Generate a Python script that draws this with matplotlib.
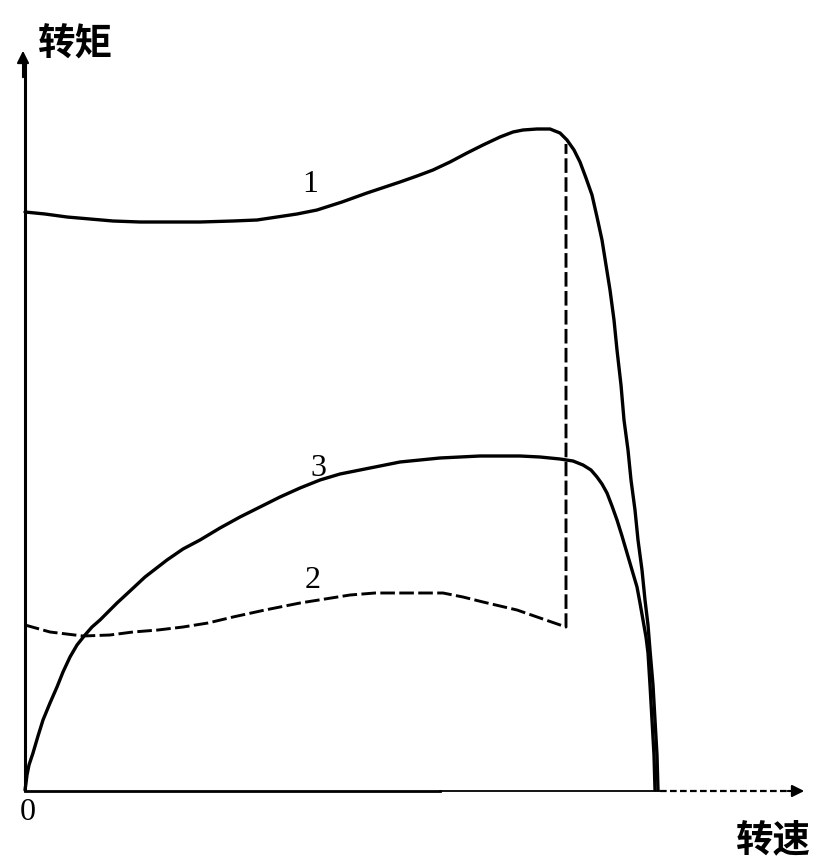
import matplotlib.pyplot as plt

plt.rcParams['font.family'] = ['Noto Sans CJK SC', 'DejaVu Sans']

# curve 1: speed / torque (arbitrary units)
speed1 = [0, 20, 42, 65, 88, 115, 145, 175, 208, 232, 252, 272, 292, 317, 342, 360,
          375, 392, 408, 425, 442, 458, 475, 488, 498, 512, 525, 535, 542, 549,
          555, 561, 567, 572, 577, 581, 585, 589, 592, 596, 599, 603, 606, 610, 613,
          617, 620, 623, 625, 628, 630, 632, 633]
torque1 = [578, 576, 573, 571, 569, 568, 568, 568, 569, 570, 573, 576, 580, 588, 597, 603,
           608, 614, 620, 628, 637, 645, 653, 658, 660, 661, 661, 657, 650, 640,
           628, 612, 595, 573, 550, 525, 500, 470, 440, 405, 370, 340, 310, 280, 250,
           220, 190, 165, 140, 105, 70, 35, 0]

# curve 2 (dashed), ends with the vertical drop line up to curve 1
speed2 = [0, 25, 58, 85, 108, 133, 158, 183, 208, 240, 275, 300, 325, 350, 375, 398,
          418, 438, 458, 475, 492, 515, 541, 541]
torque2 = [165, 158, 154, 155, 158, 160, 163, 167, 173, 180, 187, 191, 195, 197, 197, 197,
           197, 193, 188, 184, 180, 172, 163, 646]

# curve 3
speed3 = [0, 1, 2, 4, 8, 13, 18, 25, 32, 38, 45, 52, 60, 67, 75, 83, 92, 105, 120, 142,
          158, 175, 195, 215, 235, 255, 275, 295, 315, 335, 355, 375, 395, 415, 435,
          455, 475, 495, 515, 535, 548, 558, 566, 572, 577, 582, 587, 592, 597, 602,
          607, 612, 615, 618, 621, 623, 625, 627, 629, 630]
torque3 = [0, 7, 15, 25, 37, 54, 70, 87, 103, 118, 133, 145, 155, 163, 170, 178, 187, 199,
           213, 230, 241, 250, 262, 273, 283, 293, 302, 310, 316, 320, 324, 328, 330, 332,
           333, 334, 334, 334, 333, 331, 329, 325, 320, 313, 306, 297, 284, 270, 254, 237,
           220, 203, 187, 170, 153, 137, 105, 70, 35, 0]

curve_labels = ['1', '2', '3']
label_pos = [(285, 605), (288, 210), (293, 322)]

fig = plt.figure(figsize=(8.13, 8.6), dpi=100)
ax = fig.add_axes([0, 0, 1, 1])
ax.set_xlim(-25, 788)
ax.set_ylim(-70, 790)
ax.axis('off')

ax.plot(speed1, torque1, color='black', lw=2.4, solid_capstyle='round', solid_joinstyle='round')
ax.plot(speed2, torque2, color='black', lw=2.1, linestyle=(0, (5, 1.5)))
ax.plot(speed3, torque3, color='black', lw=2.4, solid_capstyle='round', solid_joinstyle='round')

for lab, (x, y) in zip(curve_labels, label_pos):
    ax.text(x, y, lab, fontsize=23, family='Liberation Serif', ha='center', va='center')

# axes with arrows
ax.plot([0, 0], [0, 725], color='black', lw=2.2)
ax.annotate('', xy=(-2, 742), xytext=(-2, 710),
            arrowprops=dict(arrowstyle='-|>', color='black', lw=1.5, mutation_scale=18))
ax.plot([0, 415], [-1, -1], color='black', lw=2.0)
ax.plot([415, 635], [-1, -1], color='black', lw=1.3)
ax.plot([635, 765], [-1, -1], color='black', lw=1.6, linestyle=(0, (3, 1.5)))
ax.annotate('', xy=(782, -1), xytext=(760, -1),
            arrowprops=dict(arrowstyle='-|>', color='black', lw=1.5, mutation_scale=18))

ax.text(3, -22, '0', fontsize=23, family='Liberation Serif', ha='center', va='center')
ax.text(50, 746, '转矩', fontsize=27, fontweight='bold', ha='center', va='center')
ax.text(748, -50, '转速', fontsize=27, fontweight='bold', ha='center', va='center')

fig.savefig('out.png', dpi=100, facecolor='white')
